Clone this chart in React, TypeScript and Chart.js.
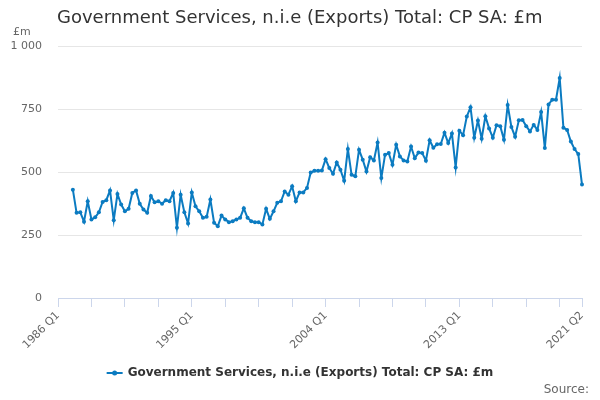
import { useEffect, useRef } from "react";
import { Chart, registerables, type Plugin } from "chart.js";

Chart.register(...registerables);

const FAMILY = "'DejaVu Sans', sans-serif";
const LINE_COLOR = "#0b7bc1";
const AXIS_COLOR = "#ccd6eb";
const GRID_COLOR = "#e6e6e6";

const TITLE = "Government Services, n.i.e (Exports) Total: CP SA: £m";
const UNIT = "£m";
const SOURCE = "Source:";

// quarter labels run 1986 Q1 .. 2021 Q2, the series itself starts in 1987 Q1
const FIRST_YEAR = 1986;
const LAST_YEAR = 2021;
const LAST_QUARTER = 2;
const QUARTERS: string[] = [];
for (let y = FIRST_YEAR; y <= LAST_YEAR; y++) {
  for (let q = 1; q <= 4; q++) {
    if (y === LAST_YEAR && q > LAST_QUARTER) break;
    QUARTERS.push(`${y} Q${q}`);
  }
}

const LABELLED_TICKS = ["1986 Q1", "1995 Q1", "2004 Q1", "2013 Q1", "2021 Q2"];
const TICK_STEP = 9;
const Y_MAX = 1000;
const Y_STEP = 250;

// £m, 1987 Q1 onwards
const VALUES_1987_1992 = [
  430, 338, 340, 303, 384, 312, 320, 340, 381, 388, 427, 309, 413, 371, 344, 354,
  417, 427, 374, 351, 338, 405, 380, 384,
];
const VALUES_1993_1998 = [
  374, 388, 384, 417, 279, 410, 340, 296, 419, 364, 344, 318, 322, 391, 299, 285,
  327, 312, 301, 305, 312, 318, 356, 318,
];
const VALUES_1999_2004 = [
  305, 301, 301, 292, 354, 314, 344, 378, 384, 423, 410, 443, 384, 419, 419, 437,
  498, 505, 505, 506, 551, 516, 493, 538,
];
const VALUES_2005_2010 = [
  509, 465, 591, 489, 483, 588, 549, 502, 559, 546, 617, 476, 568, 575, 529, 608,
  562, 546, 542, 601, 555, 577, 575, 545,
];
const VALUES_2011_2016 = [
  626, 596, 610, 611, 656, 615, 653, 518, 664, 646, 720, 757, 636, 704, 632, 721,
  673, 636, 686, 682, 628, 766, 679, 640,
];
const VALUES_2017_2021 = [705, 706, 682, 661, 687, 667, 738, 595, 768, 787, 787, 873, 676, 667, 621, 591, 571, 450];

const VALUES = [
  ...VALUES_1987_1992,
  ...VALUES_1993_1998,
  ...VALUES_1999_2004,
  ...VALUES_2005_2010,
  ...VALUES_2011_2016,
  ...VALUES_2017_2021,
];

function spaced(n: number) {
  return String(n).replace(/\B(?=(\d{3})+(?!\d))/g, " ");
}

const textPlugin: Plugin<"line"> = {
  id: "texts",
  afterDraw(chart) {
    const { ctx } = chart;
    ctx.save();
    ctx.textBaseline = "middle";
    ctx.textAlign = "left";
    ctx.fillStyle = "#333333";
    ctx.font = `18px ${FAMILY}`;
    ctx.fillText(TITLE, 57, 18);

    ctx.fillStyle = "#666666";
    ctx.font = `11px ${FAMILY}`;
    ctx.fillText(UNIT, 13, 32);

    // legend: line with a marker, then bold series name, centred
    ctx.font = `bold 12px ${FAMILY}`;
    const w = ctx.measureText(TITLE).width;
    const x0 = 300 - (16 + 5 + w) / 2;
    const y = 373;
    ctx.strokeStyle = LINE_COLOR;
    ctx.lineWidth = 2;
    ctx.beginPath();
    ctx.moveTo(x0, y);
    ctx.lineTo(x0 + 16, y);
    ctx.stroke();
    ctx.fillStyle = LINE_COLOR;
    ctx.beginPath();
    ctx.arc(x0 + 8, y, 2.5, 0, Math.PI * 2);
    ctx.fill();
    ctx.fillStyle = "#333333";
    ctx.fillText(TITLE, x0 + 21, y);

    ctx.fillStyle = "#666666";
    ctx.font = `12px ${FAMILY}`;
    ctx.textAlign = "right";
    ctx.fillText(SOURCE, 589, 390);
    ctx.restore();
  },
};

export default function App() {
  const canvasRef = useRef<HTMLCanvasElement>(null);
  useEffect(() => {
    const canvas = canvasRef.current;
    if (!canvas) return;
    const gap = QUARTERS.length - VALUES.length;
    const data = [...Array(gap).fill(null), ...VALUES];
    const tickIndices: number[] = [];
    for (let i = 0; i < QUARTERS.length; i += TICK_STEP) tickIndices.push(i);
    if (tickIndices[tickIndices.length - 1] !== QUARTERS.length - 1) tickIndices.push(QUARTERS.length - 1);

    const chart = new Chart(canvas, {
      type: "line",
      data: {
        labels: QUARTERS,
        datasets: [
          {
            label: TITLE,
            data,
            borderColor: LINE_COLOR,
            backgroundColor: LINE_COLOR,
            borderWidth: 2,
            pointRadius: 2,
            pointBorderWidth: 0,
            tension: 0,
          },
        ],
      },
      options: {
        animation: false,
        responsive: true,
        maintainAspectRatio: false,
        layout: { padding: { top: 46, right: 18, left: 0, bottom: 0 } },
        plugins: { legend: { display: false }, title: { display: false }, tooltip: { enabled: false } },
        scales: {
          x: {
            type: "category",
            offset: false,
            grid: { drawOnChartArea: false, drawTicks: true, tickLength: 9, color: AXIS_COLOR },
            border: { display: true, color: AXIS_COLOR },
            afterBuildTicks: (scale) => {
              scale.ticks = tickIndices.map((v) => ({ value: v }));
            },
            afterFit: (scale) => {
              scale.height = 102;
            },
            ticks: {
              autoSkip: false,
              maxRotation: 45,
              minRotation: 45,
              padding: 2,
              color: "#666666",
              font: { size: 11, family: FAMILY },
              callback: (value) => {
                const label = QUARTERS[Number(value)];
                return LABELLED_TICKS.includes(label) ? label : "";
              },
            },
          },
          y: {
            min: 0,
            max: Y_MAX,
            grid: { color: GRID_COLOR, drawTicks: false },
            border: { display: false },
            afterFit: (scale) => {
              scale.width = 58;
            },
            ticks: {
              stepSize: Y_STEP,
              padding: 16,
              color: "#666666",
              font: { size: 11, family: FAMILY },
              callback: (v) => spaced(Number(v)),
            },
          },
        },
      },
      plugins: [textPlugin],
    });
    return () => chart.destroy();
  }, []);
  return (
    <div style={{ position: "absolute", left: 0, top: 0, width: 600, height: 400 }}>
      <canvas ref={canvasRef} />
    </div>
  );
}
